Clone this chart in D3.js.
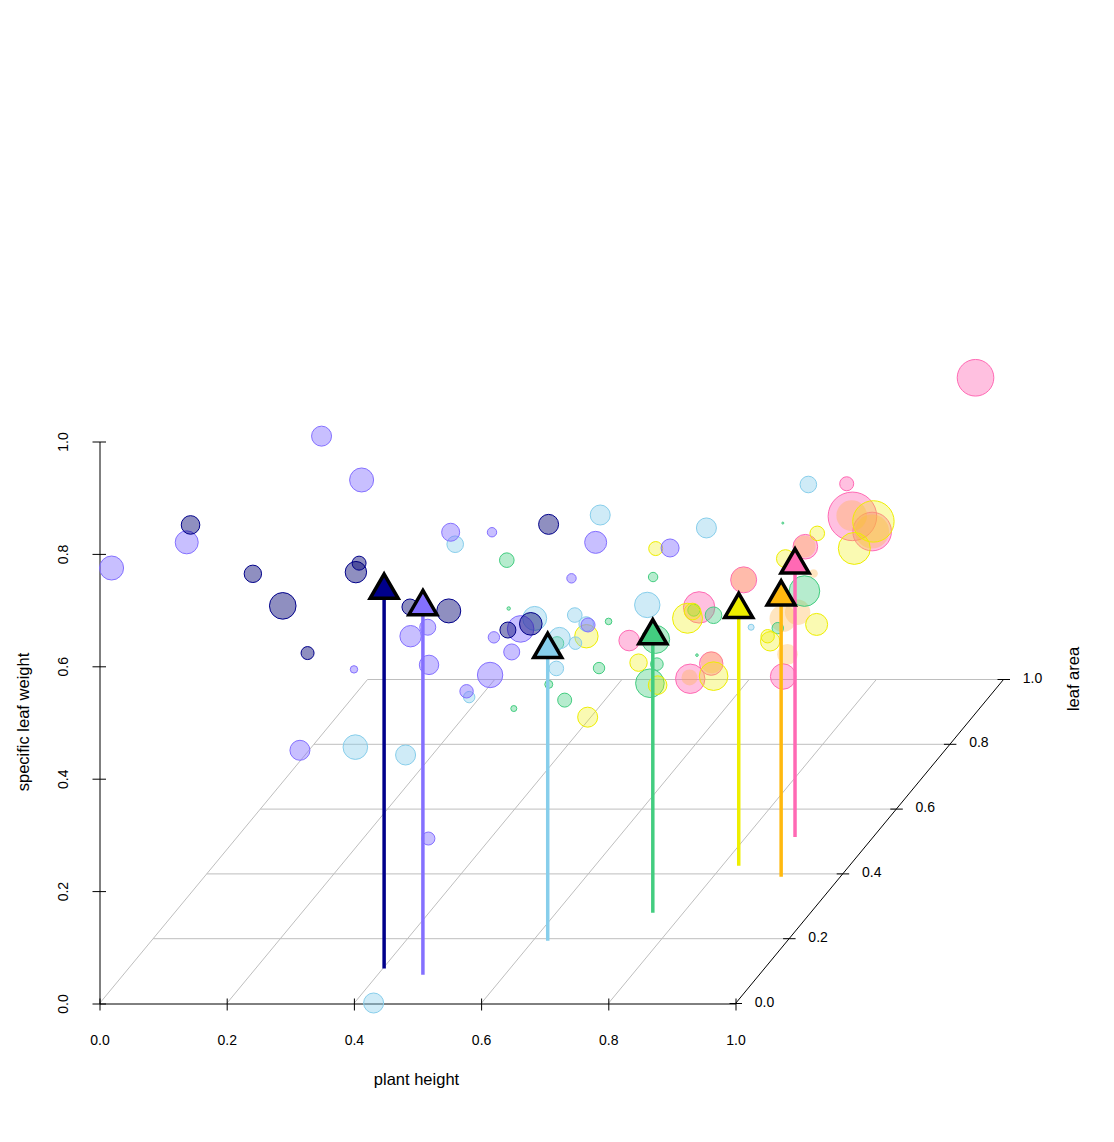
<!DOCTYPE html>
<html>
<head>
<meta charset="utf-8">
<script src="https://cdn.jsdelivr.net/npm/d3@7/dist/d3.min.js"></script>
<style>
body { margin: 0; background: #fff; }
text { font-family: "Liberation Sans", Arial, sans-serif; fill: #000; }
</style>
</head>
<body>
<div id="chart"></div>
<script>
var width = 1114;
var height = 1142;

// every row: plant height, leaf area, specific leaf weight, bubble size
var navyPoints = [
  [.101,.1,.793,.93],[.199,.1,.706,.87],[.246,.1,.649,1.33],[.285,.1,.565,.65],[.361,.1,.709,1.07],[.366,.1,.725,.7],
  [.664,.1,.794,1],[.446,.1,.647,.8],[.507,.1,.640,1.2],[.600,.1,.606,.8],[.636,.1,.617,1.13]
];
var purplePoints = [
  [.019,0,.774,1.2],[.307,.1,.951,1],[.370,.1,.873,1.2],[.095,.1,.762,1.15],[.358,.1,.536,.37],[.273,.1,.392,1],
  [.510,.1,.780,.9],[.575,.1,.780,.47],[.738,.1,.762,1.1],[.700,.1,.698,.47],[.855,.1,.752,.9],[.474,.1,.611,.8],
  [.447,.1,.595,1.07],[.476,.1,.544,.97],[.578,.1,.593,.57],[.606,.1,.567,.8],[.620,.1,.608,1.33],[.572,.1,.526,1.27],
  [.535,.1,.497,.67],[.726,.1,.615,.7],[.475,.1,.235,.65]
];
var skyPoints = [
  [.318,.2,.340,1.23],[.397,.2,.326,1],[.703,.2,.753,1],[.475,.2,.701,.83],[.600,.2,.569,1.2],[.639,.2,.534,1.07],
  [.663,.2,.575,.73],[.664,.2,.525,.63],[.681,.2,.559,.73],[.777,.2,.593,1.27],[.634,.2,.480,.73],[.497,.2,.429,.57],
  [.946,.4,.692,.83],[.870,.2,.730,1],[.856,.4,.438,.3],[.431,0,0,1]
];
var greenPoints = [
  [.514,.3,.615,.73],[.744,.3,.585,.47],[.517,.3,.529,.17],[.674,.3,.506,.33],[.593,.3,.467,.67],[.748,.3,.474,1.4],
  [.750,.3,.430,.63],[.659,.3,.423,.57],[.580,.3,.394,.4],[.739,.3,.396,1.43],[.605,.3,.366,.7],[.525,.3,.351,.3],
  [.808,.3,.526,.6],[.839,.3,.517,.83],[.982,.3,.560,1.53],[.940,.3,.494,.57],[.813,.3,.446,.13],[.948,.3,.681,.1]
];
var yellowPoints = [
  [.706,.4,.578,.7],[.597,.4,.422,1.17],[.679,.4,.375,.87],[.709,.4,.335,.93],[.599,.4,.278,1],[.756,.4,.454,1.5],
  [.764,.4,.466,.83],[.797,.4,.351,1.43],[.886,.4,.413,.97],[.882,.4,.422,.67],[.959,.4,.443,1.1],[.910,.4,.560,.9],
  [.960,.4,.605,.73],[.964,.6,.511,2.07],[.934,.6,.463,1.6]
];
var orangePoints = [
  [.972,.5,.579,1.53],[.962,.6,.493,1.7],[.898,.5,.524,1.1],[.802,.5,.465,1.25],[.717,.5,.291,.8],[.752,.5,.318,1.1],
  [.864,.5,.396,1.35],[.887,.5,.407,1.27],[.860,.5,.440,.8],[.871,.5,.332,1.03],[.912,.5,.476,.43]
];
var pinkPoints = [
  [.922,.6,.578,.7],[.931,.6,.520,2.43],[.962,.6,.493,1.93],[.857,.6,.466,1.23],[.760,.6,.407,1.3],[.690,.6,.358,1.57],
  [.580,.6,.299,1.03],[.676,.6,.231,1.47],[.709,.6,.258,1.17],[.822,.6,.235,1.27],[.956,1,.536,1.83]
];

// species means, drawn as the triangles on stems
var meanColors = ["#00008B", "#8470FF", "#87CEEB", "#43CD80", "#EEEE00", "#FFB90F", "#FF69B4"];
var meanHeight = [.402, .471, .623, .752, .826, .907, .877];
var meanArea = [.108, .089, .194, .28, .425, .391, .514];
var meanWeight = [.673, .655, .518, .493, .456, .498, .484];

var axisTicks = [0, .2, .4, .6, .8, 1];

// back to front
var groups = [
  {rows: pinkPoints, color: "#FF69B4", fill: "#FF69B4", alpha: 0.42},
  {rows: orangePoints, color: "none", fill: "#FFB040", alpha: 0.33},
  {rows: greenPoints, color: "#43CD80", fill: "#43CD80", alpha: 0.39},
  {rows: yellowPoints, color: "#EEEE00", fill: "#EEEE00", alpha: 0.3},
  {rows: skyPoints, color: "#87CEEB", fill: "#87CEEB", alpha: 0.4},
  {rows: purplePoints, color: "#8470FF", fill: "#8470FF", alpha: 0.45},
  {rows: navyPoints, color: "#00008B", fill: "#000070", alpha: 0.44}
];

var svg = d3.select("#chart").append("svg")
    .attr("width", width)
    .attr("height", height)
    .style("display", "block");

var originY = 1003.5;
var xScale = d3.scaleLinear().domain([0, 1]).range([99.5, 735.5]);
var zScale = d3.scaleLinear().domain([0, 1]).range([originY, 441.5]);
// the leaf area axis runs up and to the right
var depthX = d3.scaleLinear().domain([0, 1]).range([0, 268]);
var depthY = d3.scaleLinear().domain([0, 1]).range([0, -324]);
var radius = d3.scaleLinear().domain([0, 3]).range([0, 30]);

function px(h, a) { return xScale(h) + depthX(a); }
function py(a, w) { return zScale(w) + depthY(a); }

// floor grid
var grid = svg.append("g").attr("stroke", "#bebebe").attr("fill", "none");
grid.selectAll("line.h")
    .data(axisTicks.slice(1))
    .enter().append("line")
    .attr("class", "h")
    .attr("x1", function(d) { return px(0, d); })
    .attr("x2", function(d) { return px(1, d); })
    .attr("y1", function(d) { return py(d, 0); })
    .attr("y2", function(d) { return py(d, 0); });
grid.selectAll("line.d")
    .data(axisTicks.slice(0, 5))
    .enter().append("line")
    .attr("class", "d")
    .attr("x1", function(d) { return px(d, 0); })
    .attr("x2", function(d) { return px(d, 1); })
    .attr("y1", function(d) { return py(0, 0); })
    .attr("y2", function(d) { return py(1, 0); });

// x axis
var xAxis = svg.append("g")
    .attr("transform", "translate(0," + originY + ")")
    .call(d3.axisBottom(xScale).tickValues(axisTicks).tickFormat(d3.format(".1f")).tickSize(7).tickPadding(25).tickSizeOuter(0));
xAxis.selectAll("text").style("font-size", "14px").style("font-family", "Liberation Sans");
xAxis.selectAll(".tick line").attr("y1", -5);

// vertical axis
var zAxis = svg.append("g")
    .attr("transform", "translate(99.5,0)")
    .call(d3.axisLeft(zScale).tickValues(axisTicks).tickFormat(d3.format(".1f")).tickSize(7).tickSizeOuter(0));
zAxis.selectAll("text")
    .style("font-size", "14px")
    .style("font-family", "Liberation Sans")
    .attr("text-anchor", "middle")
    .attr("transform", "rotate(-90)")
    .attr("x", 0)
    .attr("y", -32)
    .attr("dy", 0);
zAxis.selectAll(".tick line").attr("x1", 6.5);

// leaf area axis
var depthAxis = svg.append("g");
depthAxis.append("line")
    .attr("x1", px(1, 0)).attr("y1", py(0, 0))
    .attr("x2", px(1, 1)).attr("y2", py(1, 0))
    .attr("stroke", "#000");
depthAxis.selectAll("line.t")
    .data(axisTicks)
    .enter().append("line")
    .attr("class", "t")
    .attr("x1", function(d) { return px(1, d) - 6; })
    .attr("x2", function(d) { return px(1, d) + 6.5; })
    .attr("y1", function(d) { return py(d, 0); })
    .attr("y2", function(d) { return py(d, 0); })
    .attr("stroke", "#000");
depthAxis.selectAll("text")
    .data(axisTicks)
    .enter().append("text")
    .attr("x", function(d) { return px(1, d) + 29; })
    .attr("y", function(d) { return py(d, 0) + 3; })
    .attr("text-anchor", "middle")
    .style("font-size", "14px")
    .text(d3.format(".1f"));

// axis titles
svg.append("text")
    .attr("x", 416.5).attr("y", 1085)
    .attr("text-anchor", "middle")
    .style("font-size", "16.5px")
    .text("plant height");
svg.append("text")
    .attr("transform", "translate(29,722) rotate(-90)")
    .attr("text-anchor", "middle")
    .style("font-size", "16.5px")
    .text("specific leaf weight");
svg.append("text")
    .attr("transform", "translate(1079,679) rotate(-90)")
    .attr("text-anchor", "middle")
    .style("font-size", "16.5px")
    .text("leaf area");

// bubbles
groups.forEach(function(g) {
    svg.append("g").selectAll("circle")
        .data(g.rows)
        .enter().append("circle")
        .attr("cx", function(d) { return px(d[0], d[1]); })
        .attr("cy", function(d) { return py(d[1], d[2]) - 0.5; })
        .attr("r", function(d) { return radius(d[3]); })
        .attr("fill", g.fill)
        .attr("fill-opacity", g.alpha)
        .attr("stroke", g.color)
        .attr("stroke-width", 1);
});

// stems and triangles of the means
var means = d3.range(meanHeight.length);
svg.append("g").selectAll("line")
    .data(means)
    .enter().append("line")
    .attr("x1", function(i) { return px(meanHeight[i], meanArea[i]); })
    .attr("x2", function(i) { return px(meanHeight[i], meanArea[i]); })
    .attr("y1", function(i) { return py(meanArea[i], 0); })
    .attr("y2", function(i) { return py(meanArea[i], meanWeight[i]); })
    .attr("stroke", function(i) { return meanColors[i]; })
    .attr("stroke-width", 3.5);
svg.append("g").selectAll("path")
    .data(means)
    .enter().append("path")
    .attr("d", d3.symbol(d3.symbolTriangle, 340))
    .attr("transform", function(i) {
        return "translate(" + px(meanHeight[i], meanArea[i]) + "," + py(meanArea[i], meanWeight[i]) + ")";
    })
    .attr("fill", function(i) { return meanColors[i]; })
    .attr("stroke", "#000")
    .attr("stroke-width", 3.5);
</script>
</body>
</html>
